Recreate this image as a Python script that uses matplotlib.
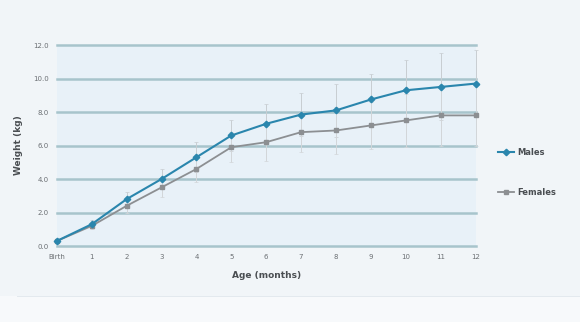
import matplotlib.pyplot as plt
from matplotlib.patches import Rectangle

# data
ages = ["Birth", "1", "2", "3", "4", "5", "6", "7", "8", "9", "10", "11", "12"]
males = [0.3, 1.3, 2.8, 4.0, 5.3, 6.6, 7.3, 7.85, 8.1, 8.75, 9.3, 9.5, 9.7]
females = [0.3, 1.2, 2.4, 3.5, 4.6, 5.9, 6.2, 6.8, 6.9, 7.2, 7.5, 7.8, 7.8]
males_err = [0.1, 0.25, 0.45, 0.6, 0.9, 0.9, 1.2, 1.3, 1.6, 1.5, 1.8, 2.0, 2.0]
females_err = [0.1, 0.2, 0.4, 0.6, 0.8, 0.9, 1.1, 1.2, 1.4, 1.4, 1.6, 1.8, 1.8]
yticks = [0.0, 2.0, 4.0, 6.0, 8.0, 10.0, 12.0]

MALE_COL = "#2a86ad"
FEMALE_COL = "#8c8f92"
GRID_COL = "#a7c4cc"
TEXT_COL = "#6b6f73"

fig = plt.figure(figsize=(5.8, 3.22), dpi=100)
fig.patch.set_facecolor("#f1f5f8")

# lighter strip at the bottom
fig.patches.append(Rectangle((0, 0), 1, 0.08, transform=fig.transFigure,
                             facecolor="#f7f9fb", edgecolor="none", zorder=0))
fig.patches.append(Rectangle((0.03, 0.078), 0.97, 0.004, transform=fig.transFigure,
                             facecolor="#e3e9ee", edgecolor="none", zorder=0))

ax = fig.add_axes([0.098, 0.236, 0.722, 0.624])
ax.set_facecolor("#e8f1f8")

x = list(range(len(ages)))
for yv in yticks:
    ax.axhline(yv, color=GRID_COL, lw=1.8, zorder=1, clip_on=False)

ax.errorbar(x, males, yerr=males_err, fmt="none", ecolor="#c8cdd1", elinewidth=0.7,
            capsize=1.5, capthick=0.5, zorder=2, clip_on=False)
ax.errorbar(x, females, yerr=females_err, fmt="none", ecolor="#d2d6d9", elinewidth=0.7,
            capsize=1.5, capthick=0.5, zorder=2, clip_on=False)

ax.plot(x, females, color=FEMALE_COL, lw=1.3, marker="s", ms=3.0,
        label="Females", zorder=3, clip_on=False)
ax.plot(x, males, color=MALE_COL, lw=1.5, marker="D", ms=3.3,
        label="Males", zorder=4, clip_on=False)

ax.set_xlim(0, 12)
ax.set_ylim(0, 12)
ax.set_xticks(x)
ax.set_xticklabels(ages)
ax.set_yticks(yticks)
ax.set_yticklabels(["%.1f" % v for v in yticks])
ax.tick_params(length=0, labelsize=5, colors=TEXT_COL, pad=6)
for s in ax.spines.values():
    s.set_visible(False)

ax.set_xlabel("Age (months)", fontsize=6.5, color="#4a4e52", fontweight="bold", labelpad=8)
ax.set_ylabel("Weight (kg)", fontsize=6.5, color="#4a4e52", fontweight="bold", labelpad=7)

handles, labels = ax.get_legend_handles_labels()
leg = fig.legend(handles[::-1], labels[::-1], loc="center left",
                 bbox_to_anchor=(0.845, 0.465), frameon=False, fontsize=6,
                 labelspacing=3.7, handlelength=2.0, handletextpad=0.4)
for t in leg.get_texts():
    t.set_color("#4a4e52")
    t.set_fontweight("bold")

fig.savefig("out.png", dpi=100, facecolor=fig.get_facecolor())
